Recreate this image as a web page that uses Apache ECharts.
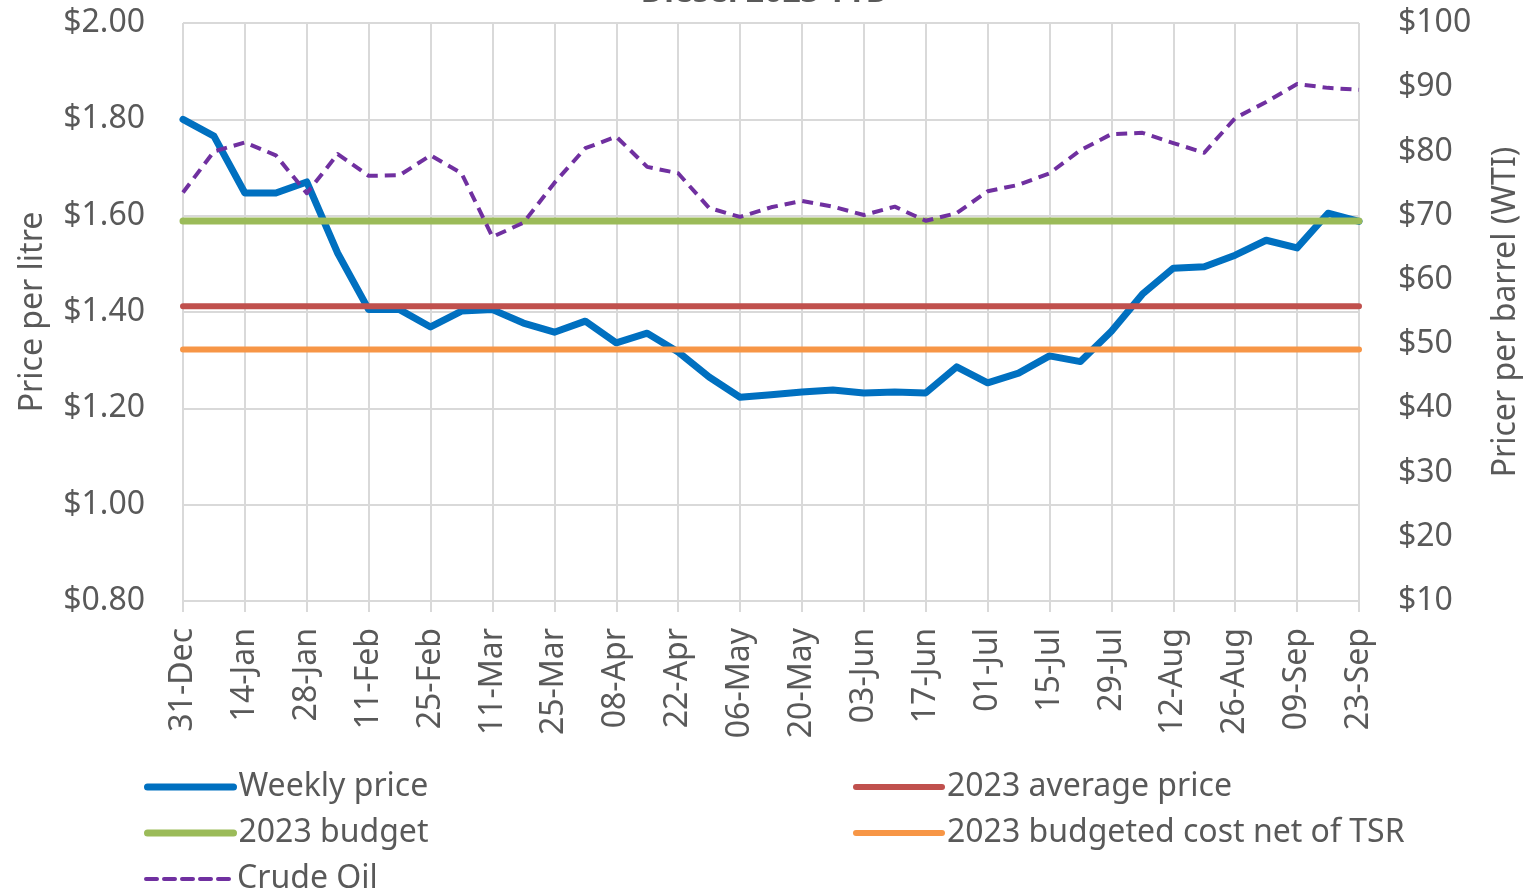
<!DOCTYPE html>
<html>
<head>
<meta charset="utf-8">
<title>Diesel 2023 YTD</title>
<script src="https://cdn.jsdelivr.net/npm/echarts@6/dist/echarts.min.js"></script>
<style>
    html, body {margin: 0; padding: 0; background: #fff; overflow: hidden;}
    #chart {width: 1530px; height: 896px;}
</style>
</head>
<body>
<div id="chart"></div>
<script>
// weekly dates (x axis)
var weeks = ['31-Dec', '07-Jan', '14-Jan', '21-Jan', '28-Jan', '04-Feb', '11-Feb', '18-Feb', '25-Feb', '04-Mar',
    '11-Mar', '18-Mar', '25-Mar', '01-Apr', '08-Apr', '15-Apr', '22-Apr', '29-Apr', '06-May', '13-May',
    '20-May', '27-May', '03-Jun', '10-Jun', '17-Jun', '24-Jun', '01-Jul', '08-Jul', '15-Jul', '22-Jul',
    '29-Jul', '05-Aug', '12-Aug', '19-Aug', '26-Aug', '02-Sep', '09-Sep', '16-Sep', '23-Sep'];

// diesel price per litre
var weeklyPrice = [1.80, 1.765, 1.647, 1.647, 1.67, 1.522, 1.405, 1.405, 1.369, 1.402,
    1.405, 1.377, 1.358, 1.381, 1.336, 1.356, 1.317, 1.265, 1.223, 1.228,
    1.234, 1.238, 1.232, 1.234, 1.232, 1.286, 1.253, 1.273, 1.309, 1.297,
    1.36, 1.437, 1.491, 1.494, 1.518, 1.549, 1.533, 1.605, 1.588];

// crude oil WTI per barrel
var crudeOil = [73.6, 80.0, 81.4, 79.4, 73.5, 79.6, 76.2, 76.3, 79.4, 76.6,
    66.7, 68.9, 75.1, 80.5, 82.3, 77.6, 76.6, 71.2, 69.8, 71.3,
    72.3, 71.4, 70.1, 71.4, 69.2, 70.4, 73.8, 74.8, 76.6, 80.2,
    82.7, 82.9, 81.3, 79.8, 85.2, 87.7, 90.5, 89.9, 89.6];

// flat reference levels
var avgPrice = 1.412;
var budget = 1.589;
var budgetNetTsr = 1.322;

var leftTicks = {min: 0.8, max: 2.0, interval: 0.2};
var rightTicks = {min: 10, max: 100, interval: 10};

var txt = '#595959';
var gridCol = '#d9d9d9';
var font = 'Noto Sans';

var myChart = echarts.init(document.getElementById('chart'));

function flat(v) {
    return weeks.map(function () {
        return v;
    });
}

// one legend per entry so the 2-column layout matches (thick line, no symbol)
function legend(name, w, left, top) {
    return {
        left: left,
        top: top,
        padding: 0,
        itemWidth: 86,
        itemHeight: 10,
        textStyle: {fontFamily: font, fontSize: 32, color: txt, lineHeight: 30},
        data: [{name: name, itemStyle: {opacity: 0}, lineStyle: {width: w, cap: 'round'}}]
    };
}

var option = {
    animation: false,
    backgroundColor: '#fff',
    textStyle: {fontFamily: font},
    title: {
        text: 'Diesel 2023 YTD',
        left: 'center',
        top: -28,
        textStyle: {fontFamily: font, fontSize: 32, fontWeight: 'bold', color: txt}
    },
    grid: {left: 183, right: 164, top: 23, bottom: 295},
    legend: [
        legend('Weekly price', 7, 144, 771),
        legend('2023 average price', 6, 853, 771),
        legend('2023 budget', 7, 144, 817),
        legend('2023 budgeted cost net of TSR', 6, 853, 817),
        legend('Crude Oil', 4, 144, 863)
    ],
    xAxis: {
        type: 'category',
        data: weeks,
        boundaryGap: false,
        axisLine: {lineStyle: {color: gridCol, width: 2}},
        axisTick: {show: true, interval: 1, length: 11, lineStyle: {color: gridCol, width: 2}},
        splitLine: {show: true, interval: 1, lineStyle: {color: gridCol, width: 2}},
        axisLabel: {interval: 1, rotate: 90, margin: 27, fontSize: 32, color: txt, fontFamily: font}
    },
    yAxis: [{
        type: 'value',
        min: leftTicks.min,
        max: leftTicks.max,
        interval: leftTicks.interval,
        name: 'Price per litre',
        nameLocation: 'middle',
        nameRotate: 90,
        nameGap: 134,
        nameTextStyle: {fontFamily: font, fontSize: 32, color: txt},
        axisLine: {show: false},
        axisTick: {show: false},
        splitLine: {lineStyle: {color: gridCol, width: 2}},
        axisLabel: {
            margin: 38, fontSize: 32, color: txt, fontFamily: font,
            formatter: function (v) {
                return '$' + v.toFixed(2);
            }
        }
    }, {
        type: 'value',
        position: 'right',
        min: rightTicks.min,
        max: rightTicks.max,
        interval: rightTicks.interval,
        name: 'Pricer per barrel (WTI)',
        nameLocation: 'middle',
        nameRotate: 90,
        nameGap: 131,
        nameTextStyle: {fontFamily: font, fontSize: 32, color: txt},
        axisLine: {show: false},
        axisTick: {show: false},
        splitLine: {show: false},
        axisLabel: {
            margin: 39, fontSize: 32, color: txt, fontFamily: font,
            formatter: function (v) {
                return '$' + Math.round(v);
            }
        }
    }],
    series: [{
        name: 'Weekly price',
        type: 'line',
        data: weeklyPrice,
        symbol: 'none',
        color: '#0070C0',
        lineStyle: {width: 7, color: '#0070C0', join: 'round', cap: 'round'}
    }, {
        name: '2023 average price',
        type: 'line',
        data: flat(avgPrice),
        symbol: 'none',
        color: '#C0504D',
        lineStyle: {width: 6, color: '#C0504D', cap: 'round'}
    }, {
        name: '2023 budget',
        type: 'line',
        data: flat(budget),
        symbol: 'none',
        color: '#9BBB59',
        lineStyle: {width: 7, color: '#9BBB59', cap: 'round'}
    }, {
        name: '2023 budgeted cost net of TSR',
        type: 'line',
        data: flat(budgetNetTsr),
        symbol: 'none',
        color: '#F79646',
        lineStyle: {width: 6, color: '#F79646', cap: 'round'}
    }, {
        name: 'Crude Oil',
        type: 'line',
        yAxisIndex: 1,
        data: crudeOil,
        symbol: 'none',
        color: '#7030A0',
        lineStyle: {width: 4, color: '#7030A0', type: [11, 7], join: 'round'}
    }]
};

option && myChart.setOption(option);
</script>
</body>
</html>
